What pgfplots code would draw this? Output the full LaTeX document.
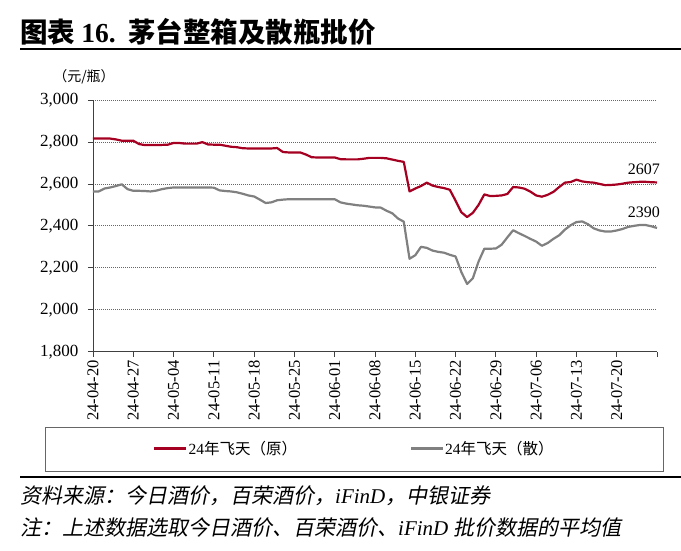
\documentclass[border=0pt]{standalone}
\usepackage{fontspec}
\setmainfont{Liberation Serif}
\newfontfamily\cjk{Noto Sans CJK SC}
\newfontfamily\cjkit{Noto Sans CJK SC}[FakeSlant=0.2]
\usepackage{pgfplots}
\pgfplotsset{compat=1.18}
\definecolor{maotai}{RGB}{165,0,33}
\definecolor{sanping}{RGB}{128,128,128}

% day index: 0 = 24-04-20
\pgfplotstableread{
d v
0 2816
1 2816
2 2816
3 2816
4 2812
5 2806
6 2806
7 2806
8 2790
9 2785
10 2785
11 2785
12 2786
13 2787
14 2795
15 2795
16 2792
17 2792
18 2792
19 2799
20 2788
21 2787
22 2787
23 2782
24 2777
25 2775
26 2770
27 2769
28 2769
29 2769
30 2769
31 2769
32 2771
33 2752
34 2750
35 2750
36 2750
37 2740
38 2727
39 2726
40 2726
41 2726
42 2726
43 2718
44 2717
45 2717
46 2717
47 2720
48 2724
49 2724
50 2724
51 2722
52 2716
53 2710
54 2705
55 2564
56 2578
57 2590
58 2606
59 2592
60 2585
61 2580
62 2572
63 2520
64 2465
65 2442
66 2462
67 2500
68 2550
69 2542
70 2543
71 2545
72 2552
73 2585
74 2583
75 2577
76 2563
77 2545
78 2539
79 2548
80 2562
81 2585
82 2606
83 2609
84 2620
85 2612
86 2608
87 2606
88 2600
89 2594
90 2595
91 2597
92 2601
93 2606
94 2608
95 2610
96 2610
97 2608
98 2607
}\yuan

\pgfplotstableread{
d v
0 2564
1 2564
2 2578
3 2583
4 2590
5 2598
6 2575
7 2567
8 2567
9 2566
10 2564
11 2568
12 2575
13 2580
14 2583
15 2583
16 2583
17 2583
18 2583
19 2583
20 2583
21 2582
22 2569
23 2566
24 2564
25 2560
26 2553
27 2545
28 2540
29 2525
30 2509
31 2512
32 2522
33 2525
34 2527
35 2527
36 2527
37 2527
38 2527
39 2527
40 2527
41 2527
42 2527
43 2512
44 2506
45 2502
46 2498
47 2496
48 2492
49 2488
50 2487
51 2472
52 2460
53 2435
54 2420
55 2243
56 2260
57 2300
58 2295
59 2282
60 2276
61 2272
62 2262
63 2254
64 2180
65 2123
66 2150
67 2230
68 2291
69 2291
70 2292
71 2310
72 2345
73 2379
74 2365
75 2352
76 2338
77 2325
78 2305
79 2318
80 2338
81 2355
82 2382
83 2403
84 2418
85 2421
86 2408
87 2388
88 2378
89 2373
90 2373
91 2378
92 2385
93 2395
94 2400
95 2404
96 2404
97 2398
98 2390
}\san

\begin{document}
\begin{tikzpicture}
\useasboundingbox (0,0) rectangle (681pt,550pt);

\node[anchor=west, inner sep=0] at (20pt,518.5pt)
  {\fontsize{27.5}{31}\selectfont\bfseries\cjk 图表\ {\rmfamily 16.}\ \ 茅台整箱及散瓶批价};
\draw[line width=1.5pt] (20pt,501pt) -- (681pt,501pt);

\node[inner sep=0] at (84pt,473pt) {\fontsize{14}{16}\selectfont\cjk （元/瓶）};

\begin{axis}[
  at={(93pt,198.3pt)}, anchor=south west,
  scale only axis, width=564pt, height=251.7pt,
  xmin=0, xmax=98, ymin=1800, ymax=3000,
  axis x line=bottom, axis y line=left,
  axis line style={black!75, line width=0.9pt, -},
  xtick={0,7,...,98},
  xticklabels={24-04-20,24-04-27,24-05-04,24-05-11,24-05-18,24-05-25,24-06-01,
    24-06-08,24-06-15,24-06-22,24-06-29,24-07-06,24-07-13,24-07-20,{}},
  ytick={1800,2000,...,3000},
  tick align=outside, major tick length=5pt,
  tick style={black!75, line width=0.8pt},
  xticklabel style={rotate=90, anchor=east, font=\fontsize{16.5}{18}\selectfont},
  yticklabel style={font=\fontsize{17}{19}\selectfont, xshift=-6pt},
  /pgf/number format/assume math mode=true,
  /pgf/number format/1000 sep={,},
  ymajorgrids,
  grid style={black!60, line width=0.8pt, dash pattern=on 1pt off 1pt},
  clip=false,
  legend columns=2,
  legend style={at={(0.4628,-0.3846)}, anchor=center, draw=none, fill=none,
    font=\fontsize{15.5}{18}\selectfont,
    nodes={inner sep=1pt},
    /tikz/every even column/.append style={column sep=112pt}},
  legend image code/.code={\draw[#1] (0pt,0pt) -- (32pt,0pt);},
]
\addplot[maotai, line width=2.2pt, line join=round] table[x=d, y=v] {\yuan};
\addlegendentry{24{\cjk 年飞天（原）}}
\addplot[sanping, line width=2.2pt, line join=round] table[x=d, y=v] {\san};
\addlegendentry{24{\cjk 年飞天（散）}}
\node[font=\fontsize{16}{18}\selectfont] at (axis cs:95.7,2668) {2607};
\node[font=\fontsize{16}{18}\selectfont] at (axis cs:95.7,2463) {2390};
\end{axis}

\draw[black!60, line width=1pt] (45pt,79pt) rectangle (663pt,122.5pt);
\draw[line width=2pt] (20pt,73pt) -- (681pt,73pt);

\node[anchor=west, inner sep=0] at (20pt,54pt)
  {\fontsize{21}{24}\selectfont\cjkit 资料来源：今日酒价，百荣酒价，{\itshape\rmfamily iFinD}，中银证券};
\node[anchor=west, inner sep=0] at (20pt,22pt)
  {\fontsize{21}{24}\selectfont\cjkit 注：上述数据选取今日酒价、百荣酒价、{\itshape\rmfamily iFinD} 批价数据的平均值};
\end{tikzpicture}
\end{document}
